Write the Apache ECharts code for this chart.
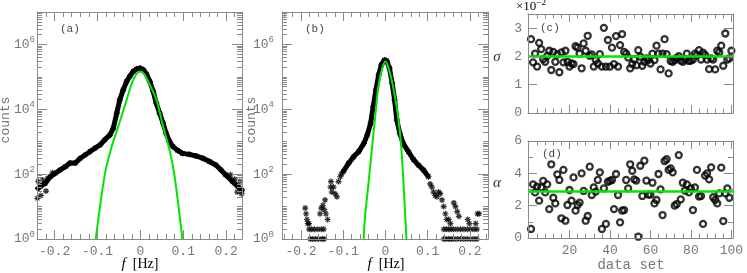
<!DOCTYPE html>
<html><head><meta charset="utf-8">
<script src="https://cdn.jsdelivr.net/npm/echarts@6/dist/echarts.min.js"></script>
<style>html,body{margin:0;padding:0;background:#fff}#c{width:747px;height:273px}</style>
</head><body><div id="c"></div>
<script>
// ---------- data ----------
// panel (a): histogram counts vs frequency
const aFreq = [-0.2425,-0.233,-0.222,-0.210,-0.198,-0.187,-0.175,-0.164,-0.152,-0.140,-0.129,-0.117,-0.106,-0.094,-0.083,-0.071,-0.063,-0.055,-0.048,-0.040,-0.032,-0.024,-0.017,-0.009,-0.001,0.007,0.014,0.022,0.030,0.037,0.045,0.053,0.060,0.068,0.076,0.087,0.098,0.114,0.130,0.146,0.161,0.176,0.188,0.199,0.215,0.227,0.237];
const aCounts = [32,42,52,83,107,135,170,219,219,309,389,501,631,794,1150,1620,2630,7590,19500,39800,72400,107000,145000,174000,186000,166000,123000,72400,35500,15500,7590,3720,1820,1000,708,537,437,407,363,309,245,191,135,95,59,42,32];
const aSpreadFreq = [-0.240,-0.238,-0.232,-0.228,-0.220,-0.216,-0.205,0.210,0.220,0.226,0.232,0.236];
const aSpreadCounts = [18,60,22,66,30,75,110,95,70,28,60,25];
const aFitFreq = [-0.104,-0.0824,-0.0668,-0.0515,-0.032,-0.020,-0.0105,0,0.010,0.018,0.0376,0.053,0.068,0.080,0.098];
const aFitCounts = [1,107,708,2950,19500,63100,115000,145000,117000,72400,19500,2950,562,83,1];
// panel (b)
const bFreq = [-0.100,-0.087,-0.075,-0.063,-0.051,-0.043,-0.035,-0.029,-0.0225,-0.016,-0.0096,-0.0024,0.003,0.0096,0.016,0.0217,0.027,0.034,0.042,0.054,0.066,0.078,0.090,0.102];
const bCounts = [120,219,347,501,891,1620,3720,12000,39800,115000,234000,331000,316000,186000,63100,19500,4680,1820,891,501,288,191,135,83];
const bTailFreq = [
 -0.190,-0.188,-0.186,-0.184,-0.181,
 -0.181,-0.175,-0.168,-0.160,-0.152,-0.146,
 -0.178,-0.172,-0.165,-0.158,-0.150,-0.145,
 -0.155,-0.152,-0.148,-0.145,-0.141,-0.137,-0.143,
 -0.130,-0.127,-0.123,-0.119,-0.115,-0.129,-0.111,-0.107,-0.104,
 0.106,0.110,0.114,0.118,0.122,0.126,0.130,0.134,0.138,0.142,0.145,
 0.138,0.144,0.150,0.156,0.162,0.170,0.178,0.186,0.194,0.202,0.210,0.217,
 0.138,0.144,0.150,0.156,0.162,0.170,0.178,0.186,0.194,0.202,0.210,0.217,
 0.150,0.154,0.162,0.166,0.170,0.174,0.195,0.199,0.218,0.222,0.214];
const bTailCounts = [
 9,6,4,3,3,
 2,2,2,2,2,2,
 1,1,1,1,1,1,
 6,9,11,8,6,4,16,
 40,28,40,25,20,59,59,83,100,
 50,40,28,22,20,28,25,16,10,6,4,
 2,2,2,2,2,2,2,2,2,2,2,2,
 1,1,1,1,1,1,1,1,1,1,1,1,
 4,3,13,10,7,5,4,3,6,6,3];
const bFitFreq = [-0.0515,-0.049,-0.041,-0.033,-0.025,-0.0176,-0.009,0,0.009,0.018,0.030,0.038,0.0498];
const bFitCounts = [1,3.9,40.7,437,4680,39800,158000,295000,158000,50100,5890,562,1];
// panel (c): sigma (x 1e-2) per data set
const sigmaVals = [2.61,1.79,2.10,1.64,2.48,2.26,1.90,1.81,2.02,2.20,1.52,2.16,1.81,2.07,1.44,2.14,1.79,2.20,1.81,1.64,
 1.75,1.73,2.36,2.31,2.10,1.58,2.46,2.20,2.73,2.02,2.07,1.64,1.87,1.75,2.08,1.64,3.01,1.64,2.58,1.64,
 2.31,1.73,2.72,1.64,2.40,2.79,2.16,2.10,1.96,1.58,1.73,1.90,1.69,2.22,1.99,1.67,1.81,1.93,1.87,1.75,
 2.10,1.87,2.38,2.10,1.54,2.10,2.61,2.08,1.40,1.84,1.81,1.87,1.95,2.01,1.85,1.81,1.89,2.10,1.84,1.85,
 1.89,2.10,2.05,2.22,1.89,2.13,2.05,1.89,1.55,1.93,1.89,1.54,2.20,2.14,2.38,1.67,2.81,1.89,1.93,2.20];
const sigmaFit = 1.99;
// panel (d): alpha per data set
const alphaVals = [0.56,3.32,2.82,3.18,2.31,3.13,3.53,2.82,3.32,1.79,4.56,2.49,2.14,3.94,3.59,1.22,4.21,1.07,2.04,2.97,
 2.31,3.75,1.69,2.04,2.19,4.00,2.91,1.07,1.36,4.41,2.66,3.13,2.87,3.59,4.06,0.56,3.07,0.87,3.48,3.53,
 3.59,1.79,3.96,2.66,0.97,1.69,1.73,3.59,3.07,4.56,4.16,3.63,3.55,0.08,4.47,2.60,4.78,3.55,2.68,2.68,
 3.42,2.14,2.35,3.96,3.01,1.42,4.76,4.87,4.21,4.31,4.06,2.00,2.10,5.13,2.39,3.42,2.93,3.32,2.82,3.07,
 1.73,3.13,4.21,2.56,2.60,0.87,3.86,4.00,3.63,4.37,2.52,2.35,2.14,2.76,4.35,1.05,2.76,3.07,2.49];
const alphaFit = 2.91;
// tick values
const fMajorTicks = [-0.2,-0.1,0,0.1,0.2];
const fMinorTicks = [-0.24,-0.22,-0.18,-0.16,-0.14,-0.12,-0.08,-0.06,-0.04,-0.02,0.02,0.04,0.06,0.08,0.12,0.14,0.16,0.18,0.22,0.24];
const countLabelTicks = [1,1e2,1e4,1e6];
const countMinorTicks = [];
for (let e = 0; e < 7; e++) { for (let m = 1; m <= 9; m++) { if (m === 1 && e % 2 === 0) continue; countMinorTicks.push(m * Math.pow(10, e)); } }
const setMajorTicks = [20,40,60,80,100];
const setMinorTicks = [4,8,12,16,24,28,32,36,44,48,52,56,64,68,72,76,84,88,92,96];
const sigmaTicks = [0,1,2,3];
const alphaMajorTicks = [0,2,4,6];
const alphaMinorTicks = [1,3,5];

// ---------- chart ----------
const chart = echarts.init(document.getElementById('c'));
const AX = '#8a8a8a';
const GREEN = '#00e600';
const TL = {fontFamily:'Liberation Mono', fontSize:13, color:'#777'};
const STAR = 'path://M0,5L10,5M5,0L5,10M1.5,1.5L8.5,8.5M8.5,1.5L1.5,8.5';

const xAxes = [], yAxes = [];
function addAxes(list, dim, grid, o) {
  const pos = dim === 'x' ? ['bottom','top'] : ['left','right'];
  const first = list.length;
  const base = {type:o.type || 'value', gridIndex:grid, min:o.min, max:o.max,
    splitLine:{show:false}, axisPointer:{show:false}, z:5};
  if (o.type === 'log') base.logBase = 10;
  pos.forEach((p, pi) => {
    list.push(Object.assign({}, base, {position:p,
      axisLine:{show:true, onZero:false, lineStyle:{color:AX, width:1}},
      axisTick:{show:true, inside:true, length:o.majLen, customValues:o.major, lineStyle:{color:AX, width:1}},
      axisLabel:(pi === 0 && o.labels) ? Object.assign({show:true, customValues:o.labels, formatter:o.fmt, margin:o.margin, rich:o.rich}, TL) : {show:false}
    }));
    if (o.minor && o.minor.length) {
      list.push(Object.assign({}, base, {position:p, axisLine:{show:false, onZero:false},
        axisTick:{show:true, inside:true, length:o.minLen, customValues:o.minor, lineStyle:{color:AX, width:1}},
        axisLabel:{show:false}}));
    }
  });
  return first;
}
const fFmt = v => (Math.abs(v) < 1e-9 ? '0' : v.toFixed(1));
const logRich = {b:{fontFamily:'Liberation Mono', fontSize:13, color:'#777'}, s:{fontFamily:'Liberation Mono', fontSize:9, color:'#777', padding:[0,0,9,0]}};
const logFmt = v => '{b|10}{s|' + Math.round(Math.log10(v)) + '}';

const grids = [
  {left:37, top:12, width:205, height:227},
  {left:282, top:12, width:206, height:227},
  {left:528, top:14, width:205, height:99},
  {left:528, top:141, width:205, height:97}
];
const xa = addAxes(xAxes, 'x', 0, {min:-0.241, max:0.237, major:fMajorTicks, minor:fMinorTicks, labels:fMajorTicks, fmt:fFmt, majLen:9, minLen:5, margin:6});
const ya = addAxes(yAxes, 'y', 0, {type:'log', min:1, max:1e7, major:countLabelTicks, minor:countMinorTicks, labels:countLabelTicks, fmt:logFmt, rich:logRich, majLen:10, minLen:5, margin:2});
const xb = addAxes(xAxes, 'x', 1, {min:-0.245, max:0.243, major:fMajorTicks, minor:fMinorTicks, labels:fMajorTicks, fmt:fFmt, majLen:9, minLen:5, margin:6});
const yb = addAxes(yAxes, 'y', 1, {type:'log', min:1, max:1e7, major:countLabelTicks, minor:countMinorTicks, labels:countLabelTicks, fmt:logFmt, rich:logRich, majLen:10, minLen:5, margin:8});
const xc = addAxes(xAxes, 'x', 2, {min:-0.5, max:100.8, major:setMajorTicks, minor:setMinorTicks, majLen:8, minLen:4.5});
const yc = addAxes(yAxes, 'y', 2, {min:0, max:3.5, major:sigmaTicks, labels:sigmaTicks, fmt:v => String(v), majLen:9, margin:6});
const xd = addAxes(xAxes, 'x', 3, {min:-0.5, max:100.8, major:setMajorTicks, minor:setMinorTicks, labels:setMajorTicks, fmt:v => String(v), majLen:8, minLen:4.5, margin:6});
const yd = addAxes(yAxes, 'y', 3, {min:0, max:6, major:alphaMajorTicks, minor:alphaMinorTicks, labels:alphaMajorTicks, fmt:v => String(v), majLen:9, minLen:5, margin:6});

const pairs = (xs, ys) => xs.map((x, i) => [x, ys[i]]);
const blackPts = {color:'rgba(0,0,0,0)', borderColor:'#000', borderWidth:1.2};
const circ = {color:'rgba(0,0,0,0)', borderColor:'#000', borderWidth:2.3};

const series = [
  {type:'line', xAxisIndex:xa, yAxisIndex:ya, data:pairs(aFreq, aCounts), lineStyle:{color:'#000', width:5}, symbol:STAR, symbolSize:6, showSymbol:true, itemStyle:blackPts, z:2},
  {type:'scatter', xAxisIndex:xa, yAxisIndex:ya, data:pairs(aSpreadFreq, aSpreadCounts), symbol:STAR, symbolSize:6, itemStyle:blackPts, z:2},
  {type:'line', xAxisIndex:xa, yAxisIndex:ya, data:pairs(aFitFreq, aFitCounts), smooth:0.3, symbol:'none', lineStyle:{color:GREEN, width:2}, z:4},
  {type:'line', xAxisIndex:xb, yAxisIndex:yb, data:pairs(bFreq, bCounts), lineStyle:{color:'#000', width:5}, symbol:STAR, symbolSize:6, showSymbol:true, itemStyle:blackPts, z:2},
  {type:'scatter', xAxisIndex:xb, yAxisIndex:yb, data:pairs(bTailFreq, bTailCounts), symbol:STAR, symbolSize:6, itemStyle:blackPts, z:2},
  {type:'line', xAxisIndex:xb, yAxisIndex:yb, data:pairs(bFitFreq, bFitCounts), smooth:0.3, symbol:'none', lineStyle:{color:GREEN, width:2}, z:4},
  {type:'scatter', xAxisIndex:xc, yAxisIndex:yc, data:sigmaVals.map((v, i) => [i + 1, v]), symbol:'circle', symbolSize:6, itemStyle:circ, z:2,
    markLine:{silent:true, symbol:['none','none'], label:{show:false}, lineStyle:{color:GREEN, width:2.5, type:'solid'}, data:[{yAxis:sigmaFit}]}},
  {type:'scatter', xAxisIndex:xd, yAxisIndex:yd, data:alphaVals.map((v, i) => [i + 1, v]), symbol:'circle', symbolSize:6, itemStyle:circ, z:2,
    markLine:{silent:true, symbol:['none','none'], label:{show:false}, lineStyle:{color:GREEN, width:2.5, type:'solid'}, data:[{yAxis:alphaFit}]}}
];

const titleRich = {i:{fontFamily:'Liberation Serif', fontStyle:'italic', fontSize:15, color:'#333'}, h:{fontFamily:'Liberation Serif', fontSize:14, color:'#333'}};
const panelLbl = {fontFamily:'Liberation Mono', fontSize:11, fill:'#444', verticalAlign:'middle'};
const graphic = [
  {type:'text', x:6, y:120, rotation:Math.PI/2, style:{text:'counts', align:'center', verticalAlign:'middle', font:'13px "Liberation Mono"', fill:'#777'}},
  {type:'text', x:252, y:120, rotation:Math.PI/2, style:{text:'counts', align:'center', verticalAlign:'middle', font:'13px "Liberation Mono"', fill:'#777'}},
  {type:'text', x:140, y:264, style:{text:'{i|f}{h|  [Hz]}', rich:titleRich, align:'center', verticalAlign:'middle'}},
  {type:'text', x:386, y:264, style:{text:'{i|f}{h|  [Hz]}', rich:titleRich, align:'center', verticalAlign:'middle'}},
  {type:'text', x:631, y:265, style:{text:'data set', align:'center', verticalAlign:'middle', font:'14px "Liberation Mono"', fill:'#777'}},
  {type:'text', x:497, y:57, style:{text:'σ', align:'center', verticalAlign:'middle', font:'italic 15px "Liberation Serif"', fill:'#333'}},
  {type:'text', x:497, y:183, style:{text:'α', align:'center', verticalAlign:'middle', font:'italic 15px "Liberation Serif"', fill:'#333'}},
  {type:'text', x:516, y:7, style:{text:'{a|×10}{b|−2}', verticalAlign:'middle', rich:{a:{fontFamily:'Liberation Serif', fontSize:13, color:'#444'}, b:{fontFamily:'Liberation Serif', fontSize:9, color:'#444', padding:[0,0,9,0]}}}},
  {type:'text', x:60, y:29, style:Object.assign({text:'(a)'}, panelLbl)},
  {type:'text', x:305, y:29, style:Object.assign({text:'(b)'}, panelLbl)},
  {type:'text', x:540, y:28, style:Object.assign({text:'(c)'}, panelLbl)},
  {type:'text', x:542, y:154, style:Object.assign({text:'(d)'}, panelLbl)}
];

chart.setOption({animation:false, backgroundColor:'#fff', grid:grids, xAxis:xAxes, yAxis:yAxes, series:series, graphic:graphic});
</script>
</body></html>
